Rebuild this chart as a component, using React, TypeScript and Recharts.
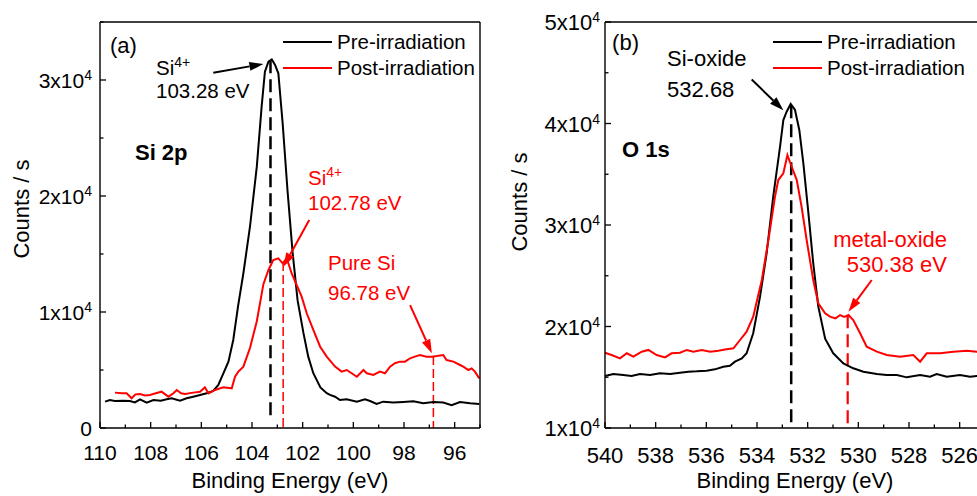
import React from "react";
import { LineChart, Line, XAxis, YAxis, ReferenceLine, ReferenceDot, Legend } from "recharts";

const FONT = "Arial, 'Liberation Sans', Helvetica, sans-serif";
const RED = "#ff0000";

// (a) Si 2p spectra, binding energy (eV) vs counts/s
const siPreEnergy = [109.8, 109.61, 109.41, 109.1, 108.82, 108.62, 108.42, 108.16, 107.89, 107.6, 107.37, 107.17, 106.84, 106.58, 106.32, 106.05, 105.79, 105.53, 105.33, 105.13, 104.93, 104.74, 104.55, 104.34, 104.08, 103.81, 103.62, 103.49, 103.35, 103.22, 103.09, 102.96, 102.79, 102.6, 102.4, 102.2, 101.97, 101.78, 101.58, 101.3, 101.05, 100.92, 100.72, 100.53, 100.26, 99.86, 99.54, 99.34, 99.08, 98.82, 98.42, 98.03, 97.63, 97.24, 96.84, 96.45, 96.12, 95.79, 95.39, 95.03];
const siPreCounts = [2270, 2410, 2330, 2350, 2330, 2210, 2470, 2180, 2410, 2360, 2470, 2560, 2360, 2560, 2700, 2850, 2990, 3190, 3710, 4710, 5720, 7590, 10500, 13340, 17350, 22530, 27700, 30720, 31580, 31780, 31300, 30580, 26270, 20520, 15200, 11000, 8200, 6150, 4720, 3500, 3000, 2850, 2700, 2410, 2470, 2270, 2470, 2330, 2070, 2270, 2190, 2240, 2300, 2130, 2240, 2190, 1960, 2240, 2130, 2070];
const siPostEnergy = [109.41, 109.14, 108.95, 108.75, 108.6, 108.42, 108.22, 108.03, 107.8, 107.57, 107.3, 107.1, 106.97, 106.8, 106.64, 106.32, 106.05, 105.86, 105.72, 105.46, 105.13, 104.8, 104.67, 104.54, 104.34, 104.08, 103.81, 103.55, 103.35, 103.16, 102.96, 102.79, 102.63, 102.43, 102.23, 102.04, 101.84, 101.58, 101.31, 101.05, 100.72, 100.46, 100.26, 99.86, 99.6, 99.47, 99.21, 98.95, 98.75, 98.55, 98.36, 98.16, 97.96, 97.76, 97.57, 97.37, 97.11, 96.9, 96.71, 96.45, 96.32, 96.05, 95.79, 95.66, 95.46, 95.33, 95.2, 95.03];
const siPostCounts = [3050, 2990, 3000, 2560, 2900, 2930, 2800, 2850, 3000, 3130, 2700, 3000, 3280, 3000, 2930, 3050, 3130, 3510, 2990, 3280, 3510, 3420, 4430, 4860, 5290, 6900, 9200, 12400, 13620, 14480, 14630, 14200, 14630, 13300, 12300, 11320, 9890, 8450, 7010, 6150, 5290, 4860, 5000, 4420, 5000, 4720, 4570, 4860, 4720, 5290, 5580, 5720, 5720, 6010, 6150, 6290, 6150, 6150, 6200, 6290, 5860, 5720, 5430, 5290, 5000, 5140, 4860, 4280];
const siTicksX = [95, 96, 97, 98, 99, 100, 101, 102, 103, 104, 105, 106, 107, 108, 109, 110];
const siTicksY = [0, 5000, 10000, 15000, 20000, 25000, 30000, 35000];

// (b) O 1s spectra
const oPreEnergy = [540, 539.67, 539.28, 538.95, 538.62, 538.22, 537.83, 537.43, 537.04, 536.71, 536.38, 535.99, 535.66, 535.33, 535.07, 534.87, 534.6, 534.41, 534.15, 533.88, 533.62, 533.36, 533.09, 532.96, 532.83, 532.67, 532.5, 532.33, 532.17, 531.97, 531.78, 531.58, 531.31, 530.99, 530.59, 530.2, 529.8, 529.27, 528.88, 528.48, 528.09, 527.56, 527.17, 526.91, 526.51, 525.99, 525.59, 525.33, 525];
const oPreCounts = [15120, 15320, 15220, 15120, 15320, 15220, 15390, 15320, 15450, 15550, 15580, 15650, 15780, 16040, 16140, 16540, 16860, 17360, 19330, 22940, 27210, 32790, 37720, 40340, 41160, 41920, 41330, 39360, 36080, 31150, 26230, 21950, 18800, 17360, 16370, 15880, 15550, 15320, 15220, 15220, 14990, 15220, 15060, 15320, 15060, 15220, 15060, 15120, 15100];
const oPostEnergy = [540, 539.74, 539.41, 539.14, 538.88, 538.55, 538.29, 537.96, 537.63, 537.37, 537.04, 536.77, 536.51, 536.18, 535.85, 535.53, 535.2, 534.93, 534.67, 534.41, 534.15, 533.81, 533.55, 533.29, 533.16, 532.96, 532.8, 532.63, 532.43, 532.24, 532.04, 531.78, 531.58, 531.31, 531.12, 530.9, 530.72, 530.55, 530.39, 530.2, 529.93, 529.67, 529.27, 528.88, 528.35, 527.83, 527.56, 527.3, 526.77, 526.25, 525.72, 525.33, 525];
const oPostCounts = [17420, 17190, 16860, 17360, 17030, 17520, 17690, 17190, 16960, 17360, 17420, 17690, 17520, 17690, 17520, 17620, 17750, 17850, 18670, 19490, 20970, 24580, 28520, 32790, 34430, 35090, 36890, 35740, 34430, 31800, 28520, 24580, 22290, 21300, 20970, 20800, 21130, 20950, 21130, 20640, 19330, 18010, 17520, 17190, 17020, 17190, 16530, 17360, 17360, 17520, 17620, 17520, 17550];
const oTicksX = [525, 526, 527, 528, 529, 530, 531, 532, 533, 534, 535, 536, 537, 538, 539, 540];
const oTicksY = [10000, 15000, 20000, 25000, 30000, 35000, 40000, 45000, 50000];

const legendOrder = ["Pre-irradiation", "Post-irradiation"];

const zip = (e: number[], c: number[]) => e.map((x, i) => ({ e: x, counts: c[i] }));

const siPre = zip(siPreEnergy, siPreCounts);
const siPost = zip(siPostEnergy, siPostCounts);
const oPre = zip(oPreEnergy, oPreCounts);
const oPost = zip(oPostEnergy, oPostCounts);

const MAJOR = 6;
const MINOR = 3.5;
const TW = 1.3;

const sci = (v: number) =>
  v === 0 ? "0" : (
    <>
      {v / 10000}x10
      <tspan dy={-8} fontSize={14}>4</tspan>
    </>
  );

// ticks point into the plot on all four sides
const bottomTick = (size: number, drop: number) => (p: any) => {
  const v = p.payload.value;
  const major = v % 2 === 0;
  return (
    <g>
      <line x1={p.x} x2={p.x} y1={p.y} y2={p.y - (major ? MAJOR : MINOR)} stroke="#000" strokeWidth={TW} />
      {major && (
        <text x={p.x} y={p.y + drop} textAnchor="middle" fontSize={size} fontFamily={FONT} fill="#000">
          {v}
        </text>
      )}
    </g>
  );
};

const topTick = (p: any) => {
  const major = p.payload.value % 2 === 0;
  return <line x1={p.x} x2={p.x} y1={p.y} y2={p.y + (major ? MAJOR : MINOR)} stroke="#000" strokeWidth={TW} />;
};

const leftTick = (size: number, gap: number) => (p: any) => {
  const v = p.payload.value;
  const major = v % 10000 === 0;
  return (
    <g>
      <line x1={p.x} x2={p.x + (major ? MAJOR : MINOR)} y1={p.y} y2={p.y} stroke="#000" strokeWidth={TW} />
      {major && (
        <text x={p.x - gap} y={p.y + 8} textAnchor="end" fontSize={size} fontFamily={FONT} fill="#000">
          {sci(v)}
        </text>
      )}
    </g>
  );
};

const rightTick = (p: any) => {
  const major = p.payload.value % 10000 === 0;
  return <line x1={p.x} x2={p.x - (major ? MAJOR : MINOR)} y1={p.y} y2={p.y} stroke="#000" strokeWidth={TW} />;
};

const xTitle = {
  content: (p: any) => {
    const vb = p.viewBox;
    return (
      <text x={vb.x + vb.width / 2} y={vb.y + 60} textAnchor="middle" fontSize={22} fontFamily={FONT} fill="#000">
        Binding Energy (eV)
      </text>
    );
  },
};

const yTitle = (dx: number, dy: number) => ({
  content: (p: any) => {
    const vb = p.viewBox;
    const cx = vb.x + dx;
    const cy = vb.y + vb.height / 2 + dy;
    return (
      <text
        x={cx}
        y={cy}
        transform={`rotate(-90 ${cx} ${cy})`}
        textAnchor="middle"
        dominantBaseline="central"
        fontSize={22}
        fontFamily={FONT}
        fill="#000"
      >
        Counts / s
      </text>
    );
  },
});

const arrow = (color: string, width: number) => (p: any) => {
  const { x1, y1, x2, y2 } = p;
  const len = Math.hypot(x2 - x1, y2 - y1) || 1;
  const ux = (x2 - x1) / len;
  const uy = (y2 - y1) / len;
  const head = 14;
  const half = 4.5;
  const bx = x2 - ux * head;
  const by = y2 - uy * head;
  return (
    <g>
      <line x1={x1} y1={y1} x2={bx} y2={by} stroke={color} strokeWidth={width} />
      <polygon points={`${x2},${y2} ${bx - uy * half},${by + ux * half} ${bx + uy * half},${by - ux * half}`} fill={color} />
    </g>
  );
};

const note =
  (lines: React.ReactNode[], opts: { color?: string; size?: number; gap?: number; anchor?: string; bold?: boolean }) =>
  (p: any) => {
    const { color = "#000", size = 21, gap = 24, anchor = "start", bold = false } = opts;
    return (
      <g>
        {lines.map((l, i) => (
          <text
            key={i}
            x={p.cx}
            y={p.cy + i * gap}
            fill={color}
            fontSize={size}
            fontFamily={FONT}
            fontWeight={bold ? "bold" : "normal"}
            textAnchor={anchor as any}
          >
            {l}
          </text>
        ))}
      </g>
    );
  };

const si4 = (
  <>
    Si<tspan dy={-8} fontSize={14}>4+</tspan>
  </>
);

const LegendBox = (props: any) => {
  const items = [...(props.payload || [])].sort(
    (a: any, b: any) => legendOrder.indexOf(a.value) - legendOrder.indexOf(b.value)
  );
  return (
    <div style={{ fontFamily: FONT, fontSize: 20.5, color: "#000" }}>
      {items.map((item: any) => (
        <div key={item.value} style={{ display: "flex", alignItems: "center", height: 26, lineHeight: "26px", whiteSpace: "nowrap" }}>
          <span
            style={{
              display: "inline-block",
              width: 49,
              height: 0,
              borderTop: `${item.color === RED ? 2 : 2.5}px solid ${item.color}`,
              marginRight: 5,
            }}
          />
          <span>{item.value}</span>
        </div>
      ))}
    </div>
  );
};

const legendProps = {
  layout: "vertical" as const,
  align: "center" as const,
  verticalAlign: "middle" as const,
  content: LegendBox,
  wrapperStyle: { left: 283, top: 29, width: 220 },
};

const axisLine = { stroke: "#000", strokeWidth: 1.4 };

function SiPanel() {
  return (
    <LineChart width={490} height={496} margin={{ top: 0, right: 0, bottom: 0, left: 0 }}>
      <XAxis dataKey="e" type="number" domain={[95, 110]} reversed ticks={siTicksX} interval={0} height={68}
        tickSize={0} tickMargin={0} tickLine={false} axisLine={axisLine} tick={bottomTick(21, 32)} label={xTitle} />
      <XAxis xAxisId="top" orientation="top" type="number" domain={[95, 110]} reversed ticks={siTicksX} interval={0} height={22}
        tickSize={0} tickMargin={0} tickLine={false} axisLine={axisLine} tick={topTick} />
      <YAxis type="number" domain={[0, 35000]} ticks={siTicksY} interval={0} width={100}
        tickSize={0} tickMargin={0} tickLine={false} axisLine={axisLine} tick={leftTick(21, 8)} label={yTitle(21, -16)} />
      <YAxis yAxisId="right" orientation="right" type="number" domain={[0, 35000]} ticks={siTicksY} interval={0} width={10}
        tickSize={0} tickMargin={0} tickLine={false} axisLine={axisLine} tick={rightTick} />

      <ReferenceLine segment={[{ x: 103.27, y: 31700 }, { x: 103.27, y: 800 }]} stroke="#000" strokeWidth={2.5} strokeDasharray="13 6" />
      <ReferenceLine segment={[{ x: 102.77, y: 14300 }, { x: 102.77, y: 0 }]} stroke={RED} strokeWidth={1.5} strokeDasharray="9 4" />
      <ReferenceLine segment={[{ x: 96.84, y: 6200 }, { x: 96.84, y: 0 }]} stroke={RED} strokeWidth={1.5} strokeDasharray="9 4" />

      <Line data={siPre} dataKey="counts" name="Pre-irradiation" stroke="#000" strokeWidth={2} dot={false} isAnimationActive={false} />
      <Line data={siPost} dataKey="counts" name="Post-irradiation" stroke={RED} strokeWidth={2} dot={false} isAnimationActive={false} />

      <ReferenceLine segment={[{ x: 105.53, y: 30630 }, { x: 103.55, y: 31380 }]} shape={arrow("#000", 2)} />
      <ReferenceLine segment={[{ x: 101.74, y: 17930 }, { x: 102.76, y: 13900 }]} shape={arrow(RED, 2)} />
      <ReferenceLine segment={[{ x: 97.76, y: 10600 }, { x: 96.9, y: 6440 }]} shape={arrow(RED, 2)} />

      <ReferenceDot x={109.61} y={32330} r={0} shape={note(["(a)"], { size: 22 })} />
      <ReferenceDot x={108.62} y={23100} r={0} shape={note(["Si 2p"], { size: 22, bold: true })} />
      <ReferenceDot x={107.79} y={30430} r={0} shape={note([si4, "103.28 eV"], { size: 20.5, gap: 23 })} />
      <ReferenceDot x={101.79} y={20950} r={0} shape={note([si4, "102.78 eV"], { size: 20.5, gap: 25, color: RED })} />
      <ReferenceDot x={101.0} y={13620} r={0} shape={note(["Pure Si", "96.78 eV"], { size: 20.5, gap: 30, color: RED })} />

      <Legend {...legendProps} />
    </LineChart>
  );
}

function OPanel() {
  return (
    <LineChart width={505} height={496} margin={{ top: 0, right: 0, bottom: 0, left: 0 }}>
      <XAxis dataKey="e" type="number" domain={[525, 540]} reversed ticks={oTicksX} interval={0} height={68}
        tickSize={0} tickMargin={0} tickLine={false} axisLine={axisLine} tick={bottomTick(22, 35)} label={xTitle} />
      <XAxis xAxisId="top" orientation="top" type="number" domain={[525, 540]} reversed ticks={oTicksX} interval={0} height={22}
        tickSize={0} tickMargin={0} tickLine={false} axisLine={axisLine} tick={topTick} />
      <YAxis type="number" domain={[10000, 50000]} ticks={oTicksY} interval={0} width={115}
        tickSize={0} tickMargin={0} tickLine={false} axisLine={axisLine} tick={leftTick(22, 5)} label={yTitle(29, -23)} />
      <YAxis yAxisId="right" orientation="right" type="number" domain={[10000, 50000]} ticks={oTicksY} interval={0} width={10}
        tickSize={0} tickMargin={0} tickLine={false} axisLine={axisLine} tick={rightTick} />

      <ReferenceLine segment={[{ x: 532.65, y: 41800 }, { x: 532.65, y: 10300 }]} stroke="#000" strokeWidth={2.5} strokeDasharray="13 6" />
      <ReferenceLine segment={[{ x: 530.42, y: 21100 }, { x: 530.42, y: 10000 }]} stroke={RED} strokeWidth={2.2} strokeDasharray="13 6" />

      <Line data={oPre} dataKey="counts" name="Pre-irradiation" stroke="#000" strokeWidth={2} dot={false} isAnimationActive={false} />
      <Line data={oPost} dataKey="counts" name="Post-irradiation" stroke={RED} strokeWidth={2} dot={false} isAnimationActive={false} />

      <ReferenceLine segment={[{ x: 534.21, y: 44330 }, { x: 532.96, y: 41310 }]} shape={arrow("#000", 2)} />
      <ReferenceLine segment={[{ x: 529.47, y: 24580 }, { x: 530.39, y: 21460 }]} shape={arrow(RED, 2)} />

      <ReferenceDot x={539.72} y={47240} r={0} shape={note(["(b)"], { size: 22 })} />
      <ReferenceDot x={539.33} y={36700} r={0} shape={note(["O 1s"], { size: 22, bold: true })} />
      <ReferenceDot x={537.55} y={45670} r={0} shape={note(["Si-oxide", "532.68"], { size: 22, gap: 31 })} />
      <ReferenceDot x={526.5} y={27830} r={0} shape={note(["metal-oxide", "530.38 eV"], { size: 22, gap: 25, color: RED, anchor: "end" })} />

      <Legend {...legendProps} />
    </LineChart>
  );
}

export default function App() {
  return (
    <div style={{ position: "fixed", left: 0, top: 0, width: 977, height: 496, overflow: "hidden", background: "#fff" }}>
      <div style={{ position: "absolute", left: 0, top: 0 }}>
        <SiPanel />
      </div>
      <div style={{ position: "absolute", left: 490, top: 0 }}>
        <OPanel />
      </div>
    </div>
  );
}
